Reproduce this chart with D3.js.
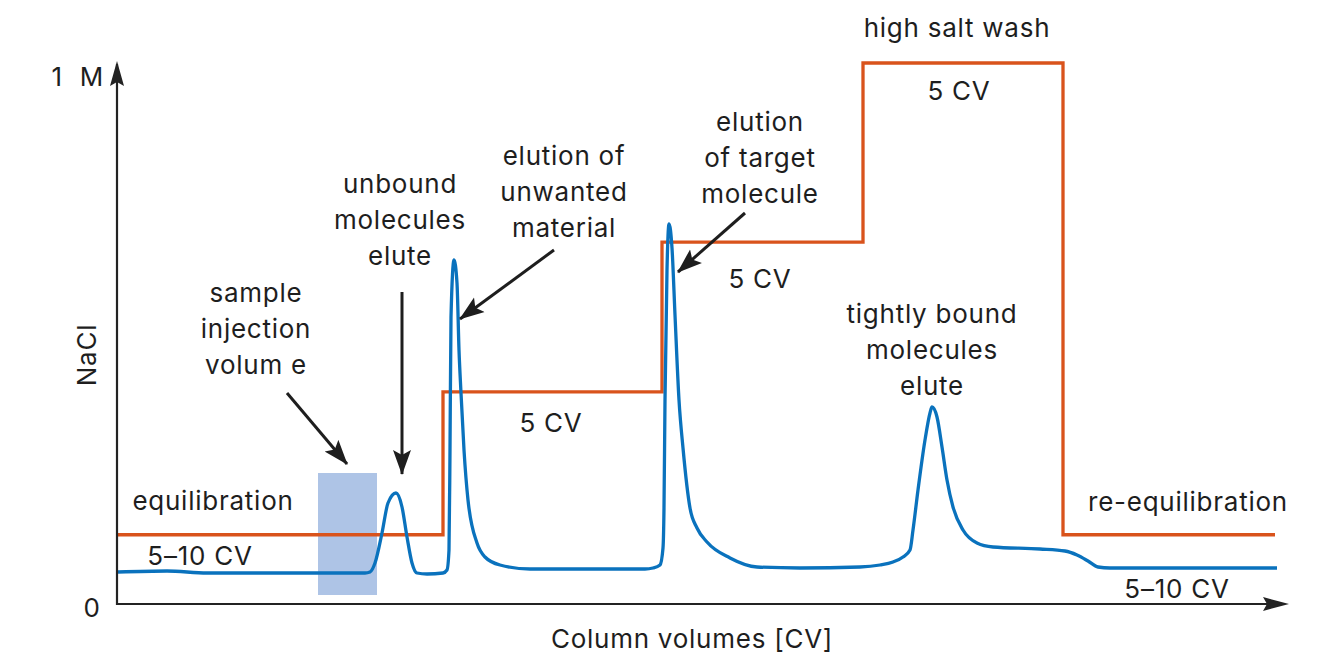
<!DOCTYPE html>
<html>
<head>
<meta charset="utf-8">
<script src="https://cdn.jsdelivr.net/npm/d3@7/dist/d3.min.js"></script>
<style>
  html, body { margin: 0; padding: 0; background: #fff; }
  svg text { font-family: Inter, "Noto Sans", sans-serif; fill: #1e1e1e; letter-spacing: 0.75px; }
</style>
</head>
<body>
<svg id="chart" width="1321" height="658"></svg>
<script>
// ---- data ----
// NaCl step gradient: column volume where each step starts, and concentration (M)
const saltCV = [0, 8.15, 13.625, 18.65, 23.65, 28.95];
const saltM  = [0.128, 0.392, 0.669, 1.0, 0.128, 0.128];

// UV absorbance trace (relative mAU) vs column volume
const uvCV = [0.025, 1.25, 2.25, 5.575, 6.2, 6.325, 6.45, 6.625, 6.775, 6.975, 7.125, 7.25, 7.375, 7.5, 7.75,
  8.15, 8.25, 8.3, 8.325, 8.35, 8.425, 8.5, 8.55, 8.6, 8.675, 8.775, 9.0, 9.2, 9.575, 10.325, 12.075,
  13.2, 13.4, 13.575, 13.65, 13.675, 13.7, 13.75, 13.8, 13.875, 13.95, 14.05, 14.15, 14.325, 14.5, 14.75,
  15.325, 16.0, 17.075, 18.575, 19.075, 19.4, 19.65, 19.825, 19.9, 20.025, 20.2, 20.325, 20.375, 20.5,
  20.625, 20.75, 20.9, 21.15, 21.5, 21.9, 23.075, 23.7, 24.0, 24.275, 24.525, 24.825, 29.0];
const uvMAU = [32, 33, 31, 31, 31, 32, 41, 71, 101, 111, 97, 67, 41, 31, 30,
  31, 34, 54, 154, 287, 344, 321, 254, 211, 154, 104, 61, 47, 39, 35, 35,
  35, 36, 39, 56, 96, 204, 334, 380, 356, 289, 204, 156, 96, 76, 62,
  46, 37, 36, 37, 39, 42, 47, 54, 74, 114, 164, 191, 197, 187,
  157, 124, 97, 74, 61, 57, 55, 53, 49, 43, 37, 36, 36];

// sample injection window
const injectionCV = [5.025, 6.5];
const injectionMAU = [9, 131];

// axis labels
const yTickLabels = ["0", "1 M"];
const xAxisTitle = "Column volumes [CV]";
const yAxisTitle = "NaCl";

// text annotations: lines, centre CV, baseline of first line (mAU units)
const labelText = [
  ["equilibration"], ["5–10 CV"], ["sample", "injection", "volum e"], ["unbound", "molecules", "elute"],
  ["elution of", "unwanted", "material"], ["elution", "of target", "molecule"], ["5 CV"], ["5 CV"],
  ["high salt wash"], ["5 CV"], ["tightly bound", "molecules", "elute"], ["re-equilibration"], ["5–10 CV"]
];
const labelCV  = [2.4, 2.075, 3.475, 7.075, 11.175, 16.075, 10.85, 16.075, 21.0, 21.05, 20.375, 26.775, 26.5];
const labelMAU = [94, 39, 302, 411, 439, 473, 172, 316, 567, 504, 281, 93, 6];

// arrows: from (CV, mAU) to (CV, mAU)
const arrowFromCV  = [4.25, 7.125, 10.925, 15.7];
const arrowFromMAU = [211, 312, 354, 391];
const arrowToCV    = [5.75, 7.125, 8.575, 14.025];
const arrowToMAU   = [140, 130, 285, 332];

// ---- layout ----
const svg = d3.select("#chart");
const x = d3.scaleLinear().domain([0, 29.3]).range([117, 1289]);
const ySalt = d3.scaleLinear().domain([0, 1]).range([604, 63]);
const yUV = d3.scaleLinear().domain([0, 541]).range([604, 63]);
const FS = 26;

const defs = svg.append("defs");
defs.append("marker")
  .attr("id", "ah").attr("markerUnits", "userSpaceOnUse")
  .attr("viewBox", "0 -10 26 20").attr("refX", 24).attr("refY", 0)
  .attr("markerWidth", 26).attr("markerHeight", 20).attr("orient", "auto")
  .append("path").attr("d", "M0,-9L25,0L0,9L5,0Z").attr("fill", "#1e1e1e");

// injection rect
svg.append("rect")
  .attr("x", x(injectionCV[0])).attr("width", x(injectionCV[1]) - x(injectionCV[0]))
  .attr("y", yUV(injectionMAU[1])).attr("height", yUV(injectionMAU[0]) - yUV(injectionMAU[1]))
  .attr("fill", "#aec4e6");

// salt line
const saltData = saltCV.map((c, i) => [c, saltM[i]]);
svg.append("path")
  .attr("d", d3.line().x(d => x(d[0])).y(d => ySalt(d[1])).curve(d3.curveStepAfter)(saltData))
  .attr("fill", "none").attr("stroke", "#d9531c").attr("stroke-width", 3.3);

// UV line
const uvData = uvCV.map((c, i) => [c, uvMAU[i]]);
svg.append("path")
  .attr("d", d3.line().x(d => x(d[0])).y(d => yUV(d[1])).curve(d3.curveMonotoneX)(uvData))
  .attr("fill", "none").attr("stroke", "#0a72bd").attr("stroke-width", 3.3)
  .attr("stroke-linejoin", "round");

// axes (with arrowheads)
const axisColor = "#232323";
svg.append("line").attr("x1", x(0)).attr("x2", x(0)).attr("y1", ySalt(0) + 1).attr("y2", 64)
  .attr("stroke", axisColor).attr("stroke-width", 2.2);
svg.append("path").attr("d", `M${x(0)},61 L${x(0) + 7},86 L${x(0)},82 L${x(0) - 7},86 Z`).attr("fill", axisColor);
svg.append("line").attr("x1", x(0) - 1).attr("x2", x(29.3) - 6).attr("y1", ySalt(0)).attr("y2", ySalt(0))
  .attr("stroke", axisColor).attr("stroke-width", 2.2);
svg.append("path").attr("d", `M${x(29.3)},${ySalt(0)} L${x(29.3) - 26},${ySalt(0) - 7} L${x(29.3) - 22},${ySalt(0)} L${x(29.3) - 26},${ySalt(0) + 7} Z`).attr("fill", axisColor);

// tick labels
svg.append("text").attr("x", 92).attr("y", 617).attr("text-anchor", "middle").attr("font-size", FS).text(yTickLabels[0]);
svg.append("text").attr("x", 104).attr("y", 86).attr("text-anchor", "end").attr("font-size", FS)
  .attr("word-spacing", 9).text(yTickLabels[1]);
svg.append("text").attr("x", 692).attr("y", 648).attr("text-anchor", "middle").attr("font-size", FS).text(xAxisTitle);
svg.append("text").attr("transform", "translate(96,355) rotate(-90)").attr("text-anchor", "middle").attr("font-size", FS).text(yAxisTitle);

// annotations
const lineGap = 36;
labelText.forEach((lines, i) => {
  const t = svg.append("text").attr("text-anchor", "middle").attr("font-size", FS)
    .attr("x", x(labelCV[i])).attr("y", yUV(labelMAU[i]));
  lines.forEach((ln, j) => {
    t.append("tspan").attr("x", x(labelCV[i])).attr("y", yUV(labelMAU[i]) + j * lineGap).text(ln);
  });
});

arrowFromCV.forEach((c, i) => {
  svg.append("line")
    .attr("x1", x(c)).attr("y1", yUV(arrowFromMAU[i]))
    .attr("x2", x(arrowToCV[i])).attr("y2", yUV(arrowToMAU[i]))
    .attr("stroke", "#1e1e1e").attr("stroke-width", 3)
    .attr("marker-end", "url(#ah)");
});
</script>
</body>
</html>
